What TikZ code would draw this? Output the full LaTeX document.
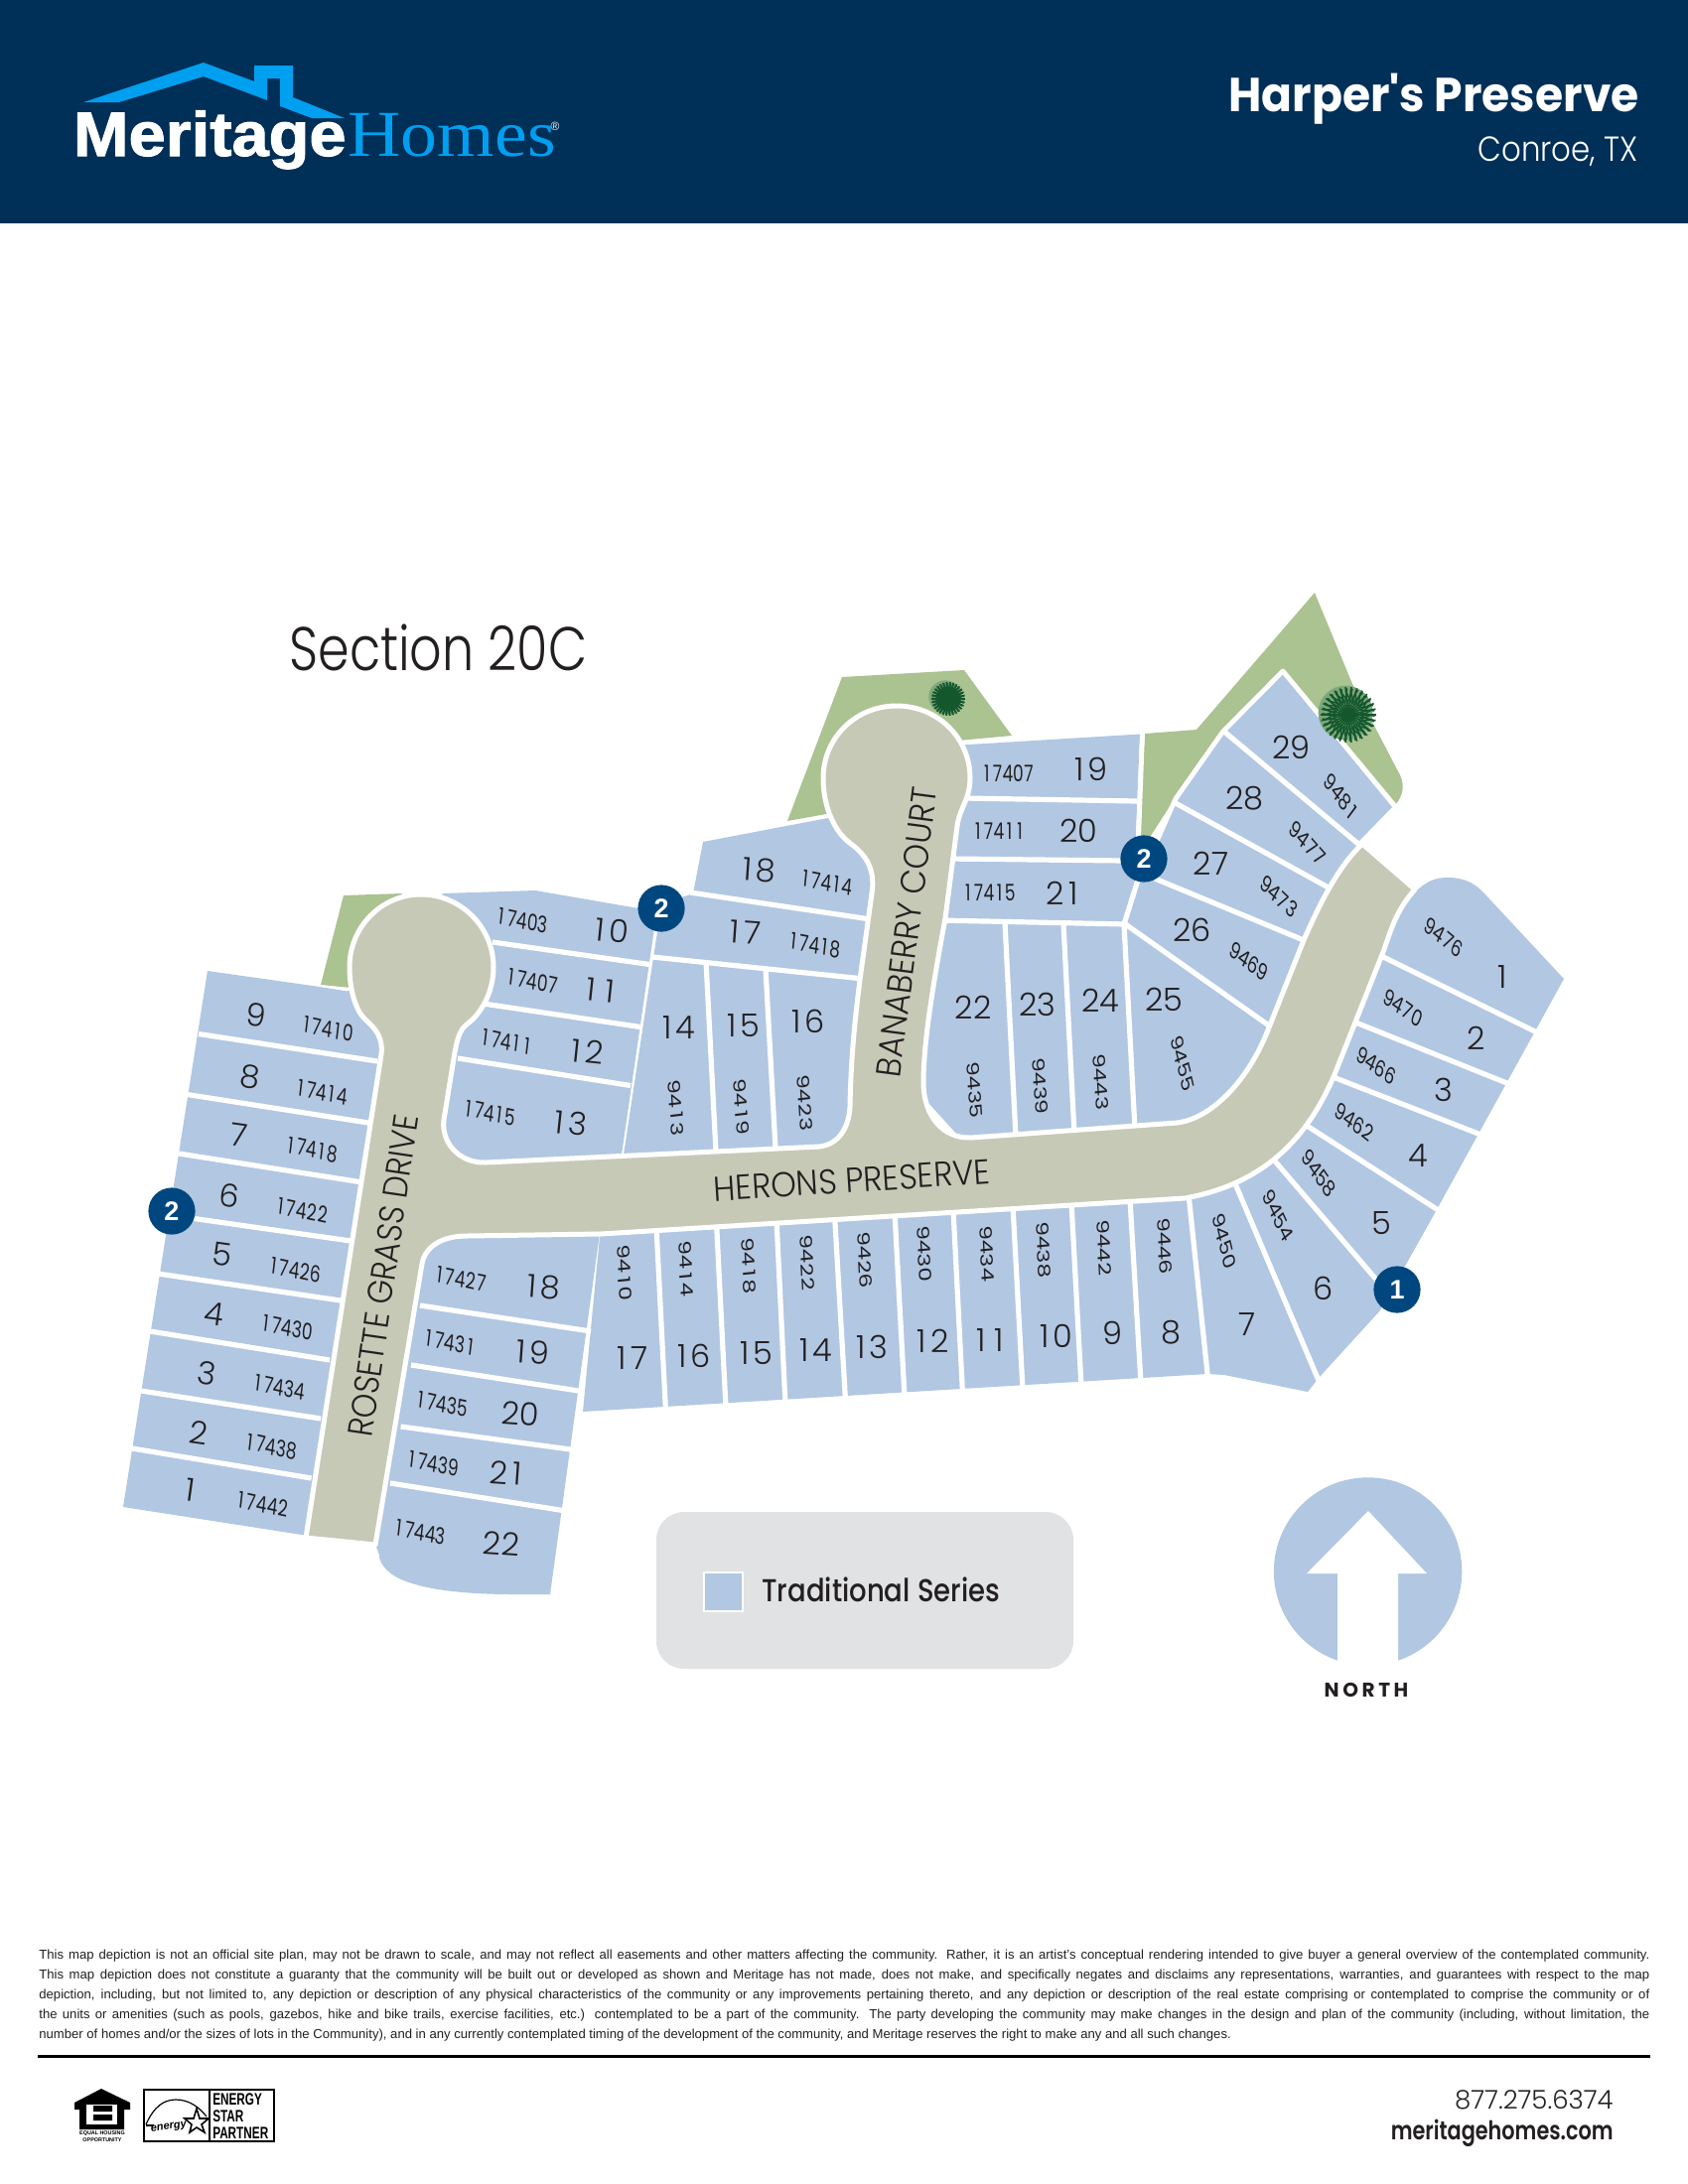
\documentclass[tikz,border=0pt]{standalone}
\usepackage{fontspec}
\setmainfont{Liberation Sans}
\newfontfamily\fut{Poppins}[UprightFont=* Light,BoldFont=* Bold]
\newfontfamily\futr{Poppins}
\newfontfamily\futm{Poppins}[UprightFont=* Medium,BoldFont=* SemiBold]
\newfontfamily\heroserif{Liberation Serif}
\newfontfamily\logoheavy{Liberation Sans}[UprightFont=* Bold,FakeBold=1.6]
\usetikzlibrary{shapes.geometric}
\definecolor{navy}{HTML}{002F57}
\definecolor{logoblue}{HTML}{009FEF}
\definecolor{lotblue}{HTML}{B1C7E2}
\definecolor{roadc}{HTML}{C7C9B7}
\definecolor{parkg}{HTML}{ABC291}
\definecolor{markerc}{HTML}{00477F}
\definecolor{legendc}{HTML}{E1E2E4}
\definecolor{ink}{HTML}{231F20}
\definecolor{treed}{HTML}{14572C}
\definecolor{treel}{HTML}{7DA87C}
\tikzset{
  lotfill/.style={fill=lotblue,draw=none},
  lotline/.style={draw=white,line width=2.6pt,line cap=butt},
  edgeline/.style={draw=white,line width=2.4pt,line join=round},
  roadfill/.style={fill=roadc,draw=white,line width=2.5pt,line join=round},
  parkfill/.style={fill=parkg,draw=none},
  lotnum/.style={font=\fut\fontsize{16}{16}\selectfont,text=ink,inner sep=0pt},
  housenum/.style={font=\futr\fontsize{11.5}{11.5}\selectfont,text=ink,inner sep=0pt,xscale=.74},
  street/.style={font=\fut\fontsize{17.5}{17.5}\selectfont,text=ink,inner sep=0pt},
  markerdisc/.style={circle,fill=markerc,text=white,minimum size=23.6pt,inner sep=0pt,font=\bfseries\fontsize{13.5}{13.5}\selectfont},
}
\def\tabd#1{\ifx#1\relax\else\makebox[.62em][c]{#1}\expandafter\tabd\fi}
\def\tabl#1{\ifx#1\relax\else\makebox[.58em][c]{#1}\expandafter\tabl\fi}
\newcommand\LN[3]{\node[lotnum,rotate=#3] at (#1) {\tabl#2\relax};}
\newcommand\HN[3]{\node[housenum,rotate=#3] at (#1) {\tabd#2\relax};}
\newcommand\DV[2]{\draw[lotline] (#1) -- (#2);}
\newcommand\treemark[2]{%
  \begin{scope}[shift={(#1)}]
    \fill[treel] (-3,-2) circle ({#2*0.98});
    \foreach \a in {0,12,...,348}{
      \draw[treed,line width=.8pt] (0,0) -- (\a:#2);
      \draw[treed,line width=.7pt] (\a:{#2*0.4}) -- (\a+15:{#2*0.95});
      \draw[treed,line width=.7pt] (\a:{#2*0.55}) -- (\a-13:{#2*0.88});
    }
    \fill[treed] (0,0) circle ({#2*0.16});
  \end{scope}}
\begin{document}
\begin{tikzpicture}[x=0.5pt,y=-0.5pt]
\useasboundingbox (0,0) rectangle (1700,2200);
\fill[white] (0,0) rectangle (1700,2200);
% header
\fill[navy] (0,0) rectangle (1700,225);
\fill[logoblue] (84,103) -- (205,63) -- (256,82) -- (256,66) -- (295,66) -- (295,98) -- (347,119) -- (314,119) -- (282,107) -- (282,79) -- (269,79) -- (269,101) -- (205,77) -- (120,103) -- cycle;
\node[anchor=base east,inner sep=0pt,text=white,font=\logoheavy\fontsize{31.5}{31.5}\selectfont,xscale=1.06] at (349,157) {Meritage};
\node[anchor=base west,inner sep=0pt,text=logoblue,font=\heroserif\fontsize{33}{33}\selectfont,xscale=1.12] at (350,157) {Homes};
\node[inner sep=0pt,text=white,font=\fontsize{6}{6}\selectfont] at (559,127) {®};
\node[anchor=base east,inner sep=0pt,text=white,font=\fut\bfseries\fontsize{24}{24}\selectfont,xscale=.95] (title) at (1651,112) {Harper's Preserve};
\node[anchor=base east,inner sep=0pt,text=white,font=\fut\fontsize{17.5}{17.5}\selectfont,xscale=.88] (place) at (1650,162) {Conroe, TX};
\node[anchor=base west,inner sep=0pt,text=ink,font=\fut\fontsize{31}{31}\selectfont,xscale=.82] (section) at (291,675) {Section 20C};
% parks
\fill[parkfill] (346,902) -- (405,900) -- (405,1000) -- (323,992) -- cycle;
\fill[parkfill] (848,682) -- (971,675) -- (1019,741) -- (965,746) -- (900,800) -- (832,820) -- (793,827) -- cycle;
\fill[parkfill] (1153,739) -- (1205,735) -- (1324,597) -- (1362,689) -- (1408,777) .. controls (1416,790) and (1413,802) .. (1405,811) -- (1292,680) -- (1182,806) -- (1146,862) -- cycle;
% lot blocks
\fill[lotfill] (209,978) -- (350,998) -- (370,1000) -- (395,1040) -- (320,1548) -- (304,1546) -- (124,1518) -- cycle;
\fill[lotfill] (440,910) -- (446,900) -- (539,897) -- (643,915) -- (659,935) -- (625,1170) -- (470,1180) -- (440,1140) -- (440,1060) -- (470,1000) -- cycle;
\fill[lotfill] (708,848) -- (834,824) -- (860,830) -- (895,880) -- (875,1000) -- (870,1120) -- (840,1165) -- (627,1170) -- (661,945) -- (668,910) -- (698,900) -- cycle;
\fill[lotfill] (960,751) -- (1148,739.5) -- (1143,862) -- (1152,870) -- (1182,806) -- (1230,739) -- (1292,679) -- (1402,813) -- (1368,848) -- (1360,875) -- (1300,1000) -- (1240,1110) -- (1180,1140) -- (975,1155) -- (925,1100) -- (945,930) -- (958,830) -- cycle;
\fill[lotfill] (605,1235) -- (1190,1200) -- (1300,1150) -- (1335,1085) -- (1385,960) -- (1415,895) -- (1428,896) .. controls (1440,885) and (1450,884) .. (1458,884) .. controls (1475,884) and (1485,890) .. (1493,898) -- (1575,986) -- (1445,1222) -- (1390,1320) -- (1328,1388) -- (1317,1402) -- (1233,1385) -- (1216,1384) -- (587,1422) -- cycle;
\fill[lotfill] (430,1235) -- (605,1235) -- (554,1606) -- (518,1606) .. controls (460,1606) and (425,1600) .. (404,1591) .. controls (388,1584) and (381,1572) .. (382,1566) -- (378,1556) -- (410,1270) -- cycle;
% borders towards the parks
\draw[edgeline] (1150.5,739) -- (1146,860);
\draw[edgeline] (1155,870) -- (1184,804.5) -- (1231.5,737) -- (1292,676) -- (1404.5,811.5);
\draw[draw=white,line width=1pt] (323,993) -- (350,997.5);
% west row
\DV{200,1041.5}{380,1069}\DV{189,1102.6}{371,1131}\DV{180,1162}{362.5,1190.6}\DV{164,1223}{353,1250}\DV{159,1283}{343,1310}\DV{151,1341}{332,1370}\DV{142,1401}{323,1429}\DV{133,1459}{313.6,1489}
% rosette east
\DV{496,949}{654,971.5}\DV{480,1010}{645,1034.5}\DV{461,1066}{635,1093.5}
\DV{423,1315}{595,1341}\DV{414,1375}{586,1401.5}\DV{403.6,1437}{579,1460.6}\DV{393,1494}{570,1522}
% banaberry west
\DV{695,899}{880,926.5}\DV{657,964}{870,986}\DV{711,968}{721,1160}\DV{771,975}{781,1157}
% banaberry east
\DV{970,804}{1145,807}\DV{955,865}{1134,867}\DV{945,927}{1134,931}\DV{1148,880}{1132,931}
\DV{1012,929}{1023,1145}\DV{1071,931}{1082,1142}\DV{1132,931}{1143,1138}
\DV{1132,930}{1285,1038}\DV{1163,885}{1320,950}\DV{1183,808.5}{1345,898}\DV{1233,737}{1375,856}
% south row
\DV{661,1235}{670.5,1422}\DV{721.5,1231}{731,1418}\DV{782,1228}{791,1415}\DV{840.6,1225}{851.5,1411}\DV{901,1221}{911,1407}\DV{960,1218}{969.5,1404}\DV{1020,1214}{1030,1400}\DV{1079,1211}{1089,1397}\DV{1138,1208}{1149,1393}\DV{1197,1203}{1216.5,1388}
\DV{1243,1190}{1329,1393}\DV{1280,1165}{1387,1290}\DV{1310,1130}{1450,1220}\DV{1335,1082}{1494,1144}\DV{1358,1027}{1520,1092}\DV{1385,960}{1550,1041}
% trees
\treemark{955,704}{17}
\treemark{1358,720}{28}
% roads
\filldraw[roadfill] (308,1549) -- (384,1062) .. controls (386,1045) and (378,1036) .. (368,1027) .. controls (358,1018) and (352,997) .. (352,974) .. controls (352,934) and (384,901) .. (424,901) .. controls (464,901) and (497,934) .. (497,974) .. controls (497,998) and (486,1020) .. (470,1032) .. controls (462,1038) and (460,1050) .. (458,1060) -- (447,1128) .. controls (444,1150) and (462,1172) .. (489,1171) -- (825,1155) .. controls (845,1153) and (855,1135) .. (856,1115) .. controls (857,1060) and (862,1020) .. (866,987) -- (878,900) .. controls (881,880) and (876,864) .. (857,850) .. controls (840,838) and (829,812) .. (829,784) .. controls (829,743) and (862,711) .. (903,711) .. controls (944,711) and (977,743) .. (977,784) .. controls (977,805) and (966,815) .. (964,832) -- (952,925) .. controls (940,990) and (930,1050) .. (930,1090) .. controls (930,1125) and (950,1147) .. (978,1146) -- (1185,1131) .. controls (1215,1128) and (1255,1095) .. (1278,1035) -- (1313,947) .. controls (1325,920) and (1345,875) .. (1372,850) -- (1425,896) .. controls (1405,918) and (1400,940) .. (1393,959) -- (1343,1085) .. controls (1325,1125) and (1290,1190) .. (1193,1207) -- (605,1243) -- (470,1245) .. controls (440,1245) and (427,1260) .. (425,1273) -- (378,1556) -- cycle;
% street names
\node[street,rotate=81.7,xscale=.9] (rosette) at (386,1285) {ROSETTE GRASS DRIVE};
\node[street,rotate=82.6,xscale=.93] (banaberry) at (913,939) {BANABERRY COURT};
\node[street,rotate=3.7,xscale=.93] (herons) at (858,1189) {HERONS PRESERVE};
% west row numbers
\LN{258,1022}{9}{-8}\HN{330,1036}{17410}{-9}
\LN{252,1085}{8}{-8}\HN{324,1100}{17414}{-9}
\LN{241,1143}{7}{-8}\HN{314,1158}{17418}{-9}
\LN{231,1204}{6}{-8}\HN{304,1219}{17422}{-9}
\LN{224,1264}{5}{-8}\HN{297,1279}{17426}{-9}
\LN{216,1324}{4}{-8}\HN{289,1337}{17430}{-9}
\LN{208,1383}{3}{-8}\HN{281,1397}{17434}{-9}
\LN{200,1443}{2}{-8}\HN{273,1457}{17438}{-9}
\LN{192,1501}{1}{-8}\HN{264,1515}{17442}{-9}
\HN{526,927}{17403}{-9}\LN{614,937}{10}{-6}
\HN{536,988}{17407}{-9}\LN{605,998}{11}{-6}
\HN{510,1049}{17411}{-9}\LN{590,1059}{12}{-6}
\HN{493,1121}{17415}{-9}\LN{573,1131}{13}{-6}
\HN{464,1288}{17427}{-9}\LN{545,1296}{18}{-4}
\HN{453,1352}{17431}{-9}\LN{534,1362}{19}{-4}
\HN{445,1414}{17435}{-9}\LN{524,1424}{20}{-4}
\HN{436,1474}{17439}{-9}\LN{512,1484}{21}{-4}
\HN{423,1543}{17443}{-9}\LN{505,1555}{22}{-4}
% banaberry
\LN{762,876}{18}{-4}\HN{832,889}{17414}{-8}
\LN{749,939}{17}{-4}\HN{820,952}{17418}{-8}
\LN{681,1035}{14}{0}\HN{681,1116}{9413}{-85}
\LN{746,1033}{15}{0}\HN{747,1115}{9419}{-85}
\LN{811,1029}{16}{0}\HN{811,1111}{9423}{-85}
\HN{1015,779}{17407}{0}\LN{1096,775}{19}{0}
\HN{1006,837}{17411}{0}\LN{1086,837}{20}{0}
\HN{996,899}{17415}{0}\LN{1072,900}{21}{0}
\LN{980,1015}{22}{0}\HN{982,1098}{9435}{-85}
\LN{1045,1012}{23}{0}\HN{1048,1094}{9439}{-85}
\LN{1108,1008}{24}{0}\HN{1109,1090}{9443}{-85}
\LN{1172,1007}{25}{0}\HN{1191,1071}{9455}{-72}
\LN{1200,937}{26}{0}\HN{1258,968}{9469}{-30}
\LN{1220,870}{27}{0}\HN{1288,903}{9473}{-35}
\LN{1253,804}{28}{0}\HN{1317,849}{9477}{-40}
\LN{1300,753}{29}{0}\HN{1351,803}{9481}{-45}
% right lots
\HN{1454,944}{9476}{-32}\LN{1513,984}{1}{0}
\HN{1413,1015}{9470}{-28}\LN{1487,1046}{2}{0}
\HN{1386,1073}{9466}{-28}\LN{1454,1098}{3}{0}
\HN{1364,1130}{9462}{-30}\LN{1428,1164}{4}{0}
\HN{1328,1182}{9458}{-47}\LN{1391,1232}{5}{0}
\HN{1287,1224}{9454}{-58}\LN{1333,1298}{6}{0}
\HN{1233,1250}{9450}{-72}\LN{1256,1334}{7}{0}
\HN{1173,1255}{9446}{-86}\LN{1179,1342}{8}{0}
\HN{1112,1257}{9442}{-86}\LN{1120,1343}{9}{0}
\HN{1051,1259}{9438}{-86}\LN{1061,1346}{10}{0}
\HN{994,1263}{9434}{-86}\LN{997,1350}{11}{0}
\HN{931,1263}{9430}{-86}\LN{937,1351}{12}{0}
\HN{871,1269}{9426}{-86}\LN{876,1357}{13}{0}
\HN{813,1272}{9422}{-86}\LN{819,1360}{14}{0}
\HN{754,1275}{9418}{-86}\LN{759,1363}{15}{0}
\HN{691,1278}{9414}{-86}\LN{696,1366}{16}{0}
\HN{629,1282}{9410}{-86}\LN{635,1368}{17}{0}
% markers
\node[markerdisc] (m1) at (173,1220) {2};
\node[markerdisc] (m2) at (666,915) {2};
\node[markerdisc] (m3) at (1152,865) {2};
\node[markerdisc] (m4) at (1407,1299) {1};
% legend
\fill[legendc,rounded corners=14pt] (661,1523) rectangle (1081,1681);
\filldraw[fill=lotblue,draw=white,line width=1pt] (709,1584) rectangle (747.5,1623);
\node[anchor=base west,inner sep=0pt,text=ink,font=\futm\fontsize{16}{16}\selectfont,xscale=.86] (legendtext) at (767,1613) {Traditional Series};
% north arrow
\fill[lotblue] (1377.6,1583) circle (94.7);
\fill[white] (1378,1522) -- (1437,1585) -- (1408,1585) -- (1408,1682) -- (1347,1682) -- (1347,1585) -- (1316,1585) -- cycle;
\node[anchor=base,inner sep=0pt,text=ink,font=\fut\bfseries\fontsize{10}{10}\selectfont\addfontfeature{LetterSpace=18}] (north) at (1376,1709) {NORTH};
% disclaimer
\begin{scope}[every node/.style={anchor=base west,inner sep=0pt,text=ink,font=\fontsize{6.55}{8}\selectfont}]
\node (d1) at (39,1973) {\makebox[811pt][s]{This map depiction is not an official site plan, may not be drawn to scale, and may not reflect all easements and other matters affecting the community. Rather, it is an artist's conceptual rendering intended to give buyer a general overview of the contemplated community.}};
\node (d2) at (39,1993) {\makebox[811pt][s]{This map depiction does not constitute a guaranty that the community will be built out or developed as shown and Meritage has not made, does not make, and specifically negates and disclaims any representations, warranties, and guarantees with respect to the map}};
\node (d3) at (39,2013) {\makebox[811pt][s]{depiction, including, but not limited to, any depiction or description of any physical characteristics of the community or any improvements pertaining thereto, and any depiction or description of the real estate comprising or contemplated to comprise the community or of}};
\node (d4) at (39,2033) {\makebox[811pt][s]{the units or amenities (such as pools, gazebos, hike and bike trails, exercise facilities, etc.) contemplated to be a part of the community. The party developing the community may make changes in the design and plan of the community (including, without limitation, the}};
\node (d5) at (39,2053) {number of homes and/or the sizes of lots in the Community), and in any currently contemplated timing of the development of the community, and Meritage reserves the right to make any and all such changes.};
\end{scope}
\draw[black,line width=1.5pt] (38,2071) -- (1662,2071);
% equal housing
\fill[black] (102,2104) -- (131,2118) -- (131,2125) -- (125,2125) -- (125,2145) -- (80,2145) -- (80,2125) -- (75,2125) -- (75,2118) -- cycle;
\fill[white] (87,2120) rectangle (118,2140);
\fill[black] (94,2121) rectangle (113,2127) (94,2130) rectangle (113,2136);
\node[inner sep=0pt,text=black,font=\bfseries\fontsize{2.7}{3}\selectfont] (eho1) at (103,2149) {EQUAL HOUSING};
\node[inner sep=0pt,text=black,font=\bfseries\fontsize{2.7}{3}\selectfont] (eho2) at (103,2156) {OPPORTUNITY};
% energy star
\draw[black,line width=1pt] (145,2105) rectangle (276,2157);
\draw[black,line width=1pt] (211,2105) -- (211,2157);
\draw[black,line width=.6pt] (147,2140) .. controls (155,2122) and (165,2115) .. (177,2115) .. controls (190,2115) and (200,2122) .. (208,2132);
\draw[black,line width=.6pt] (147,2141) -- (155,2141);
\draw[black,line width=.8pt,line join=miter] (198,2124) -- (201,2134) -- (210,2134) -- (203,2140) -- (206,2148) -- (198,2143) -- (191,2148) -- (193,2140) -- (186,2134) -- (195,2134) -- cycle;
\node[inner sep=0pt,text=black,font=\itshape\bfseries\fontsize{5.5}{5.5}\selectfont,rotate=8] (estar) at (170,2143) {energy};
\node[anchor=base west,inner sep=0pt,text=black,font=\bfseries\fontsize{8.4}{8.4}\selectfont,xscale=.7] (e1) at (214,2120) {ENERGY};
\node[anchor=base west,inner sep=0pt,text=black,font=\bfseries\fontsize{8.4}{8.4}\selectfont,xscale=.7] (e2) at (214,2137) {STAR};
\node[anchor=base west,inner sep=0pt,text=black,font=\bfseries\fontsize{8.4}{8.4}\selectfont,xscale=.7] (e3) at (214,2154) {PARTNER};
% contact
\node[anchor=base east,inner sep=0pt,text=ink,font=\fut\fontsize{13}{13}\selectfont,xscale=1.0] (phone) at (1625,2124) {877.275.6374};
\node[anchor=base east,inner sep=0pt,text=ink,font=\futm\bfseries\fontsize{13}{13}\selectfont,xscale=.8] (web) at (1625,2155) {meritagehomes.com};
\end{tikzpicture}
\end{document}
